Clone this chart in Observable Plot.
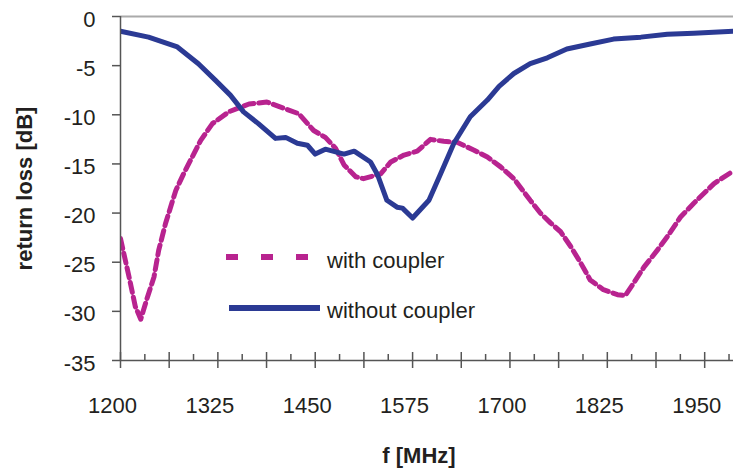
<!DOCTYPE html>
<html>
<head>
<meta charset="utf-8">
<script src="https://cdn.jsdelivr.net/npm/d3@7"></script>
<script src="https://cdn.jsdelivr.net/npm/@observablehq/plot@0.6"></script>
<style>
  html, body { margin: 0; padding: 0; background: #fff; }
  #wrap { position: relative; width: 733px; height: 468px; font-family: "Liberation Sans", Arial, sans-serif; }
  #legend { position: absolute; left: 0; top: 0; pointer-events: none; }
</style>
</head>
<body>
<div id="wrap"></div>
<script>
// ---- data ----
const seriesNames = ["with coupler", "without coupler"];

const freqWith = [1200, 1211, 1219, 1226, 1234, 1243, 1249, 1258, 1271, 1281, 1292, 1303, 1318, 1339, 1365, 1388, 1412, 1429, 1448, 1463, 1476, 1487, 1502, 1512, 1534, 1547, 1564, 1581, 1598, 1615, 1632, 1654, 1671, 1688, 1705, 1726, 1739, 1752, 1765, 1778, 1791, 1803, 1820, 1838, 1848, 1859, 1872, 1889, 1902, 1919, 1936, 1962, 1987];
const lossWith = [-22.6, -26.5, -29.5, -30.8, -28.7, -26.5, -23.8, -21.0, -17.7, -16.0, -14.3, -12.6, -10.9, -9.7, -8.9, -8.7, -9.4, -9.9, -11.6, -12.3, -13.4, -15.1, -16.3, -16.5, -16.0, -14.8, -14.1, -13.7, -12.5, -12.7, -12.8, -13.6, -14.3, -15.3, -16.5, -18.7, -20.0, -21.0, -21.9, -23.4, -25.1, -26.8, -27.8, -28.3, -28.4, -27.1, -25.5, -23.8, -22.4, -20.4, -19.0, -17.0, -15.7];

const freqWithout = [1200, 1236, 1273, 1300, 1322, 1341, 1358, 1377, 1399, 1412, 1427, 1440, 1450, 1463, 1487, 1500, 1521, 1530, 1542, 1555, 1562, 1575, 1596, 1611, 1628, 1649, 1671, 1686, 1705, 1726, 1748, 1773, 1803, 1833, 1868, 1902, 1936, 1987];
const lossWithout = [-1.5, -2.1, -3.1, -4.8, -6.5, -8.0, -9.7, -10.9, -12.4, -12.3, -12.9, -13.1, -14.0, -13.5, -14.0, -13.7, -14.8, -16.1, -18.7, -19.4, -19.5, -20.5, -18.7, -16.0, -12.9, -10.2, -8.5, -7.1, -5.8, -4.8, -4.2, -3.3, -2.8, -2.3, -2.1, -1.8, -1.7, -1.5];

const yTicks = [0, -5, -10, -15, -20, -25, -30, -35];
const xLabelTicks = [1200, 1325, 1450, 1575, 1700, 1825, 1950];
const xMajorTicks = [1200, 1262.5, 1325, 1387.5, 1450, 1512.5, 1575, 1637.5, 1700, 1762.5, 1825, 1887.5, 1950];
const xMinorTicks = [1231.25, 1293.75, 1356.25, 1418.75, 1481.25, 1543.75, 1606.25, 1668.75, 1731.25, 1793.75, 1856.25, 1918.75, 1981.25];
const xTitle = "f [MHz]";
const yTitle = "return loss [dB]";

// ---- build tables ----
const withData = freqWith.map((f, i) => ({f, db: lossWith[i]}));
const withoutData = freqWithout.map((f, i) => ({f, db: lossWithout[i]}));

const magenta = "#b8238f";
const navy = "#2b3a94";
const axisColor = "#555";
const textColor = "#231f20";
const fs = 22;

const chart = Plot.plot({
  width: 733,
  height: 468,
  marginLeft: 120,
  marginRight: 0,
  marginTop: 16,
  marginBottom: 108,
  x: {domain: [1200, 1987], axis: null},
  y: {domain: [-35, 0], axis: null},
  style: {fontFamily: "'Liberation Sans', Arial, sans-serif", color: textColor, background: "#fff", overflow: "visible"},
  marks: [
    Plot.ruleY([0], {stroke: "#aaa", strokeWidth: 2}),
    Plot.line(withData, {x: "f", y: "db", stroke: magenta, strokeWidth: 5, strokeDasharray: "10,5", clip: true}),
    Plot.line(withoutData, {x: "f", y: "db", stroke: navy, strokeWidth: 5, clip: true}),
    Plot.ruleX([1200], {stroke: axisColor, strokeWidth: 1.5}),
    Plot.ruleY([-35], {stroke: axisColor, strokeWidth: 1.5}),
    Plot.axisY(yTicks, {tickSize: 8, tickFormat: () => "", stroke: axisColor, strokeWidth: 1.5, label: null}),
    Plot.text(yTicks, {y: d => d, frameAnchor: "left", dx: -25, dy: 3, textAnchor: "end", lineAnchor: "middle", text: d => String(d), fontSize: fs, fill: textColor}),
    Plot.tickX(xMajorTicks, {x: d => d, insetTop: 336, insetBottom: -8, stroke: axisColor, strokeWidth: 1.5}),
    Plot.tickX(xMinorTicks, {x: d => d, insetTop: 338, stroke: axisColor, strokeWidth: 1.5}),
    Plot.text(xLabelTicks, {x: d => d, frameAnchor: "bottom", lineAnchor: "middle", dy: 45, dx: -8, text: d => String(d), fontSize: fs, fill: textColor}),
    Plot.text([yTitle], {frameAnchor: "left", textAnchor: "middle", lineAnchor: "middle", dx: -96, rotate: -90, text: d => d, fontSize: fs, fontWeight: "bold", fill: textColor}),
    Plot.text([xTitle], {frameAnchor: "bottom", textAnchor: "middle", lineAnchor: "middle", dx: -8, dy: 95, text: d => d, fontSize: fs, fontWeight: "bold", fill: textColor})
  ]
});

const wrap = document.getElementById("wrap");
wrap.appendChild(chart);

// ---- legend (overlay) ----
const ns = "http://www.w3.org/2000/svg";
const leg = document.createElementNS(ns, "svg");
leg.setAttribute("id", "legend");
leg.setAttribute("width", 733);
leg.setAttribute("height", 468);
const items = [
  {name: seriesNames[0], color: magenta, dash: "12,23", x1: 226, x2: 308, y: 257, ty: 262},
  {name: seriesNames[1], color: navy, dash: null, x1: 229, x2: 320, y: 308, ty: 312}
];
for (const it of items) {
  const l = document.createElementNS(ns, "line");
  l.setAttribute("x1", it.x1); l.setAttribute("x2", it.x2);
  l.setAttribute("y1", it.y); l.setAttribute("y2", it.y);
  l.setAttribute("stroke", it.color);
  l.setAttribute("stroke-width", 6);
  if (it.dash) l.setAttribute("stroke-dasharray", it.dash);
  leg.appendChild(l);
  const t = document.createElementNS(ns, "text");
  t.setAttribute("x", 327); t.setAttribute("y", it.ty);
  t.setAttribute("dominant-baseline", "middle");
  t.setAttribute("font-size", fs);
  t.setAttribute("font-family", "'Liberation Sans', Arial, sans-serif");
  t.setAttribute("fill", textColor);
  t.textContent = it.name;
  leg.appendChild(t);
}
wrap.appendChild(leg);
</script>
</body>
</html>
